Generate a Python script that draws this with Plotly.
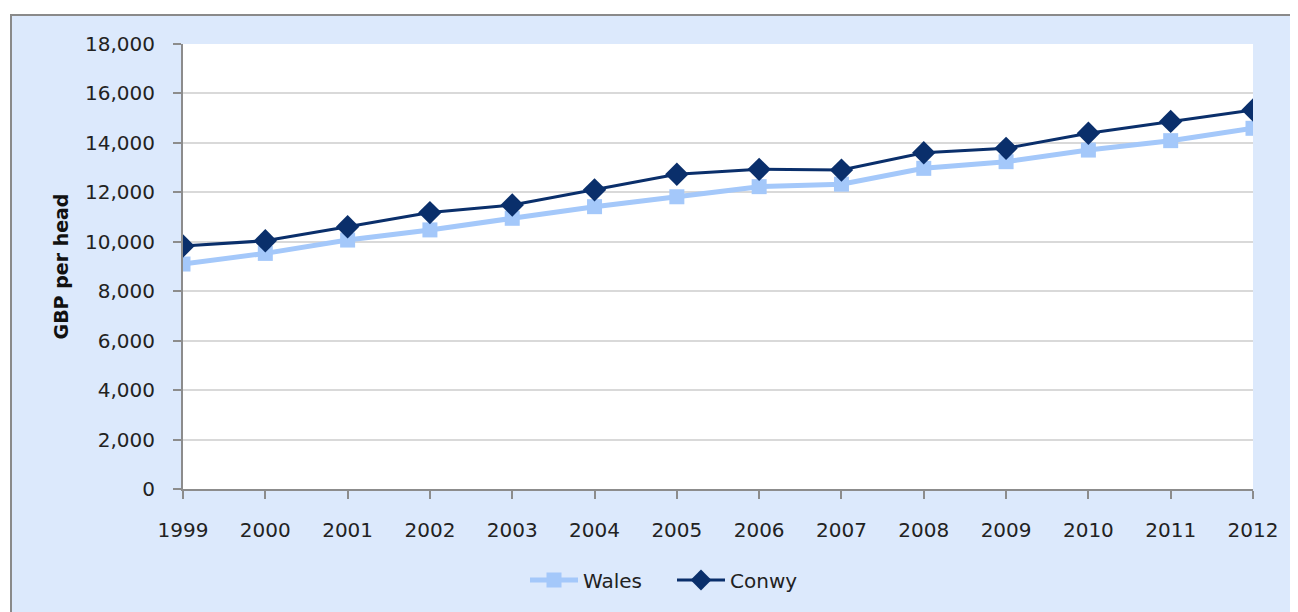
import plotly.graph_objects as go

years = [1999, 2000, 2001, 2002, 2003, 2004, 2005, 2006, 2007, 2008, 2009, 2010, 2011, 2012]
wales = [9100, 9530, 10070, 10480, 10950, 11420, 11820, 12230, 12330, 12970, 13240, 13710, 14090, 14590]
conwy = [9830, 10040, 10610, 11180, 11490, 12100, 12730, 12930, 12900, 13600, 13780, 14390, 14870, 15330]
y_ticks = list(range(0, 18001, 2000))

FONT = "DejaVu Sans"
OFF = 8  # browser body margin

W, H = 1298 - OFF, 612 - OFF
L, R, T, B = 183 - OFF, 1298 - 1253, 44 - OFF, 612 - 489
pw, ph = W - L - R, H - T - B

def px_x(x):
    return (x - OFF - L) / pw

def px_y(y):
    return (H - B - (y - OFF)) / ph

fig = go.Figure()
fig.add_trace(go.Scatter(
    x=years, y=wales, name="Wales", mode="lines+markers",
    line=dict(color="#a4c8fa", width=5),
    marker=dict(symbol="square", size=15, color="#a4c8fa"),
))
fig.add_trace(go.Scatter(
    x=years, y=conwy, name="Conwy", mode="lines+markers",
    line=dict(color="#0a2f6b", width=3),
    marker=dict(symbol="diamond", size=18, color="#0a2f6b"),
))

fig.add_shape(type="rect", xref="paper", yref="paper", layer="below",
              x0=px_x(11), x1=px_x(1310), y0=px_y(640), y1=px_y(15),
              fillcolor="#dce9fc", line=dict(color="#8a8a8a", width=2))
fig.add_shape(type="rect", xref="paper", yref="paper", layer="below",
              x0=0, x1=1, y0=0, y1=1, fillcolor="white", line=dict(width=0))

fig.update_layout(
    width=W, height=H,
    margin=dict(l=L, r=R, t=T, b=B),
    paper_bgcolor="white", plot_bgcolor="rgba(0,0,0,0)",
    font=dict(family=FONT, size=20, color="#222222"),
    showlegend=True,
    legend=dict(orientation="h", x=px_x(525), xanchor="left", y=px_y(580), yanchor="middle",
                font=dict(family=FONT, size=20, color="#222222"),
                bgcolor="rgba(0,0,0,0)", tracegroupgap=0,
                itemwidth=48, entrywidth=84, entrywidthmode="pixels"),
    xaxis=dict(range=[1999, 2012], tickmode="array", tickvals=years,
               ticktext=[str(y) for y in years],
               showgrid=False, showline=True, linecolor="#8c8c8c", linewidth=2,
               ticks="outside", ticklen=8, tickcolor="#8c8c8c", tickwidth=2,
               ticklabelstandoff=14, zeroline=False),
    yaxis=dict(range=[0, 18000], tickmode="array", tickvals=y_ticks,
               ticktext=[f"{v:,}" for v in y_ticks],
               showgrid=True, gridcolor="#d9d9d9", gridwidth=2,
               showline=True, linecolor="#8c8c8c", linewidth=2,
               ticks="outside", ticklen=8, tickcolor="#8c8c8c", tickwidth=2,
               ticklabelstandoff=14, zeroline=False,
               title=dict(text="<b>GBP per head</b>", font=dict(family=FONT, size=19, color="#111111"),
                          standoff=11)),
)

fig.write_html("out.html")
